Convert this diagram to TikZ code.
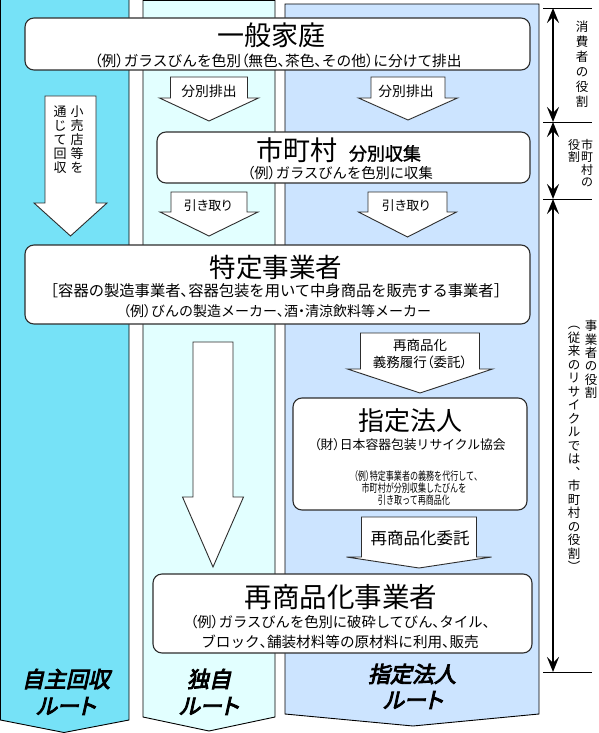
\documentclass[tikz,border=0pt]{standalone}
\usepackage{fontspec}
\usepackage{graphicx}
\usetikzlibrary{arrows.meta}
\newfontfamily\jp{Noto Sans CJK JP}
\newfontfamily\jpp[RawFeature=+palt]{Noto Sans CJK JP}
\newfontfamily\jpv{Noto Sans CJK JP}
\newfontfamily\jpb[FakeBold=1.5]{Noto Sans CJK JP}
\newfontfamily\jpbi[RawFeature=+palt,FakeSlant=0.22,FakeBold=4]{Noto Sans CJK JP}
\newcommand\fs[1]{\fontsize{#1}{#1}\selectfont}
\newcommand\vfs[2]{\fontsize{#1}{#2}\selectfont}
\newcommand\lp{{\jpp （}}
\newcommand\rp{{\jpp ）}}
\newcommand\cm{{\jpp 、}}
\newcommand\nk{{\jpp ・}}
\definecolor{colA}{RGB}{118,226,247}
\definecolor{colB}{RGB}{226,255,255}
\definecolor{colC}{RGB}{204,228,255}
\definecolor{edge}{RGB}{45,45,45}
% block arrow: cx, top, shaft half width, head start y, head half width, tip y
\newcommand\blockarr[6]{%
  \draw[barrow] ({#1-#3},#2) -- ({#1+#3},#2) -- ({#1+#3},#4) -- ({#1+#5},#4)
    -- (#1,#6) -- ({#1-#5},#4) -- ({#1-#3},#4) -- cycle;}
\begin{document}
\begin{tikzpicture}[x=1pt,y=-1pt,
  box/.style={draw=edge, line width=1.1pt, fill=white, rounded corners=9pt, inner sep=0pt},
  lane/.style={draw=black, line width=0.9pt},
  barrow/.style={draw=edge, line width=0.9pt, fill=white, line join=miter},
  txt/.style={inner sep=0pt, font=\jp},
  vt/.style={inner sep=0pt, align=center, anchor=north},
  route/.style={inner sep=0pt, font=\jpbi\fs{22}},
  tick/.style={draw=black, line width=0.7pt},
  dim/.style={draw=black, line width=2.6pt, {Stealth[length=15pt,width=12pt,inset=6pt]}-{Stealth[length=15pt,width=12pt,inset=6pt]}}]
\useasboundingbox (0,0) rectangle (599,733);

% lanes
\draw[lane, fill=colA] (0.5,-1) -- (129,-1) -- (129,720) -- (64,732.5) -- (0.5,720) -- cycle;
\draw[lane, fill=colB] (143,0.5) -- (275,0.5) -- (275,717) -- (209,731) -- (143,717) -- cycle;
\draw[lane, fill=colC] (285,4) -- (539,4) -- (539,714) -- (413,726) -- (285,714) -- cycle;

% block arrows
\blockarr{209}{77}{38.5}{98}{49.5}{121}
\blockarr{408}{77}{37}{98}{49.5}{120}
\blockarr{209}{192}{38}{212}{49}{236}
\blockarr{407.5}{192}{39.5}{212}{49}{237}
\blockarr{70.5}{96}{25.5}{203}{36.5}{236}
\blockarr{213}{342}{20}{497}{30.5}{567}
\blockarr{420}{333}{59.5}{369}{72.5}{393}
\blockarr{419}{517}{57.5}{557}{72.5}{568}

% boxes
\node[box, minimum width=505pt, minimum height=52pt] (home) at (277.5,44) {};
\node[box, minimum width=373pt, minimum height=51pt] (city) at (343.5,157.5) {};
\node[box, minimum width=505pt, minimum height=79pt] (biz) at (277.5,284.5) {};
\node[box, minimum width=234pt, minimum height=112pt] (desig) at (410,454) {};
\node[box, minimum width=379pt, minimum height=79pt] (recyc) at (342.5,613.5) {};

% box texts
\node[txt, font=\jp\fs{27}] (homeT) at (271,35) {一般家庭};
\node[txt, font=\jp\fs{14.7}] (homeS) at (278,61) {\lp 例\rp ガラスびんを色別\lp 無色\cm 茶色\cm その他\rp に分けて排出};
\node[txt] (cityT) at (338.5,150) {{\fs{27}市町村}\hspace{12pt}{\jpb\fs{18}分別収集}};
\node[txt, font=\jp\fs{14.3}] (cityS) at (340,173) {\lp 例\rp ガラスびんを色別に収集};
\node[txt, font=\jp\fs{26.5}] (bizT) at (276,267) {特定事業者};
\node[txt, font=\jp\fs{15.3}] (bizS1) at (276,291) {［容器の製造事業者\cm 容器包装を用いて中身商品を販売する事業者］};
\node[txt, font=\jp\fs{14}] (bizS2) at (277,311) {\lp 例\rp びんの製造メーカー\cm 酒\nk 清涼飲料等メーカー};
\node[txt, font=\jp\fs{26}] (desT) at (410,421) {指定法人};
\node[txt, font=\jp\fs{12.8}] (desS) at (410,445) {\lp 財\rp 日本容器包装リサイクル協会};
\node[txt, font=\jp\fs{11.5}] (desE1) at (416,476) {\scalebox{0.7}[1]{\lp 例\rp 特定事業者の義務を代行して\cm}};
\node[txt, font=\jp\fs{11.5}] (desE2) at (414,488) {\scalebox{0.7}[1]{市町村が分別収集したびんを}};
\node[txt, font=\jp\fs{11.5}] (desE3) at (414,500) {\scalebox{0.7}[1]{引き取って再商品化}};
\node[txt, font=\jp\fs{27.5}] (recT) at (341,597) {再商品化事業者};
\node[txt, font=\jp\fs{14.3}] (recS1) at (340,622) {\lp 例\rp ガラスびんを色別に破砕してびん\cm タイル\cm};
\node[txt, font=\jp\fs{14.6}] (recS2) at (340,642) {ブロック\cm 舗装材料等の原材料に利用\cm 販売};

% arrow labels
\node[txt, font=\jp\fs{13.8}] (lab1) at (209,91) {分別排出};
\node[txt, font=\jp\fs{13.8}] (lab2) at (406,91) {分別排出};
\node[txt, font=\jpp\fs{13}] (lab3) at (208,206) {引き取り};
\node[txt, font=\jpp\fs{13}] (lab4) at (406,206) {引き取り};
\node[txt, font=\jp\fs{13.5}] (lab5a) at (420,345) {再商品化};
\node[txt, font=\jp\fs{13.5}] (lab5b) at (420,362) {義務履行\lp 委託\rp};
\node[txt, font=\jp\fs{16.5}] (lab6) at (420,538) {再商品化委託};
\node[vt, font=\jpv\vfs{13}{14}] (lab7a) at (77,106) {小\\売\\店\\等\\を};
\node[vt, font=\jpv\vfs{13}{14}] (lab7b) at (60,106) {通\\じ\\て\\回\\収};

% route labels
\node[route] (r1a) at (66,679) {自主回収};
\node[route] (r1b) at (66,706) {ルート};
\node[route] (r2a) at (209,679) {独自};
\node[route] (r2b) at (209,706) {ルート};
\node[route] (r3a) at (412,674) {指定法人};
\node[route] (r3b) at (413,700) {ルート};

% role dimension
\coordinate (t0) at (553,8);
\coordinate (t1) at (553,122);
\coordinate (t2) at (553,199);
\coordinate (t3) at (553,672);
\foreach \t in {t0,t1,t2,t3} \draw[tick] (\t) ++(-10,0) -- ++(49,0);
\draw[dim] (t0) -- (t1);
\draw[dim] (t1) -- (t2);
\draw[dim] (t2) -- (t3);
\node[vt, font=\jpv\vfs{12.5}{15}] (role1) at (582,21) {消\\費\\者\\の\\役\\割};
\node[vt, font=\jpv\vfs{12}{12.5}] (role2a) at (587,139) {市\\町\\村\\の};
\node[vt, font=\jpv\vfs{12}{12.5}] (role2b) at (574,139) {役\\割};
\node[vt, font=\jpv\vfs{12.5}{13.4}] (role3a) at (591,320) {事\\業\\者\\の\\役\\割};
\node[vt, font=\jpv\vfs{12.5}{13.5}] (role3b) at (574,326) {︵\\従\\来\\の\\リ\\サ\\イ\\ク\\ル\\で\\は\\︑\\市\\町\\村\\の\\役\\割\\︶};
\end{tikzpicture}
\end{document}
